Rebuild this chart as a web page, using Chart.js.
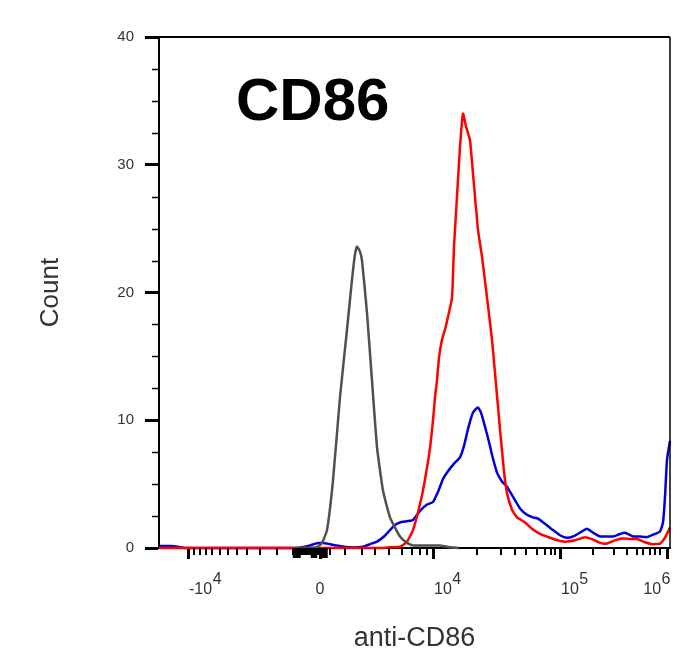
<!DOCTYPE html>
<html>
<head>
<meta charset="utf-8">
<script src="https://cdn.jsdelivr.net/npm/chart.js@4"></script>
<style>
  html, body { margin: 0; padding: 0; background: #fff; }
  canvas { display: block; }
</style>
</head>
<body>
<canvas id="histChart" width="673" height="655"></canvas>
<script>
// histogram bins in display channels (0..1022), counts per bin

const grayChannel = [272, 302, 318, 326, 336, 348, 362, 376, 386, 392, 396, 402, 406, 416, 426, 436, 448, 462, 482, 496, 508, 532, 562, 576, 600];
const grayCount = [0, 0, 0.1, 0.4, 1.4, 5.3, 11.8, 17.1, 21, 23, 23.6, 23.2, 22.5, 18.4, 13.1, 7.9, 4.5, 2.4, 0.9, 0.4, 0.2, 0.2, 0.2, 0.1, 0];

const redChannel = [0, 448, 462, 482, 496, 508, 518, 528, 536, 542, 548, 552, 556, 560, 566, 572, 578, 586, 590, 596, 602, 608, 614, 622, 628, 638, 646, 656, 666, 672, 682, 690, 696, 706, 716, 732, 746, 762, 782, 802, 816, 832, 852, 866, 882, 896, 912, 926, 942, 956, 972, 986, 1002, 1012, 1022];
const redCount = [0, 0, 0.05, 0.1, 0.5, 1.4, 2.8, 4.5, 6.3, 7.8, 10, 11.8, 13.1, 14.9, 16.3, 17.1, 18.1, 19.6, 23.6, 27.5, 31.4, 34.0, 33.0, 31.9, 29.3, 24.9, 22.8, 19.6, 16.3, 13.7, 9.3, 6.0, 4.3, 3.0, 2.4, 2.0, 1.5, 1.1, 0.8, 0.55, 0.5, 0.6, 0.85, 0.7, 0.4, 0.35, 0.6, 0.75, 0.7, 0.7, 0.45, 0.3, 0.35, 0.8, 1.6];

const blueChannel = [0, 22, 38, 52, 272, 292, 302, 314, 328, 342, 356, 382, 408, 422, 436, 450, 462, 472, 482, 496, 508, 522, 536, 548, 558, 568, 578, 590, 602, 610, 616, 622, 628, 634, 638, 644, 652, 660, 666, 676, 686, 696, 708, 722, 736, 748, 758, 772, 788, 802, 816, 828, 842, 856, 868, 882, 896, 908, 922, 932, 948, 962, 976, 992, 1002, 1008, 1012, 1016, 1022];
const blueCount = [0.15, 0.15, 0.1, 0, 0, 0.1, 0.2, 0.35, 0.4, 0.3, 0.2, 0.05, 0.1, 0.3, 0.5, 0.9, 1.4, 1.8, 2.0, 2.1, 2.2, 2.9, 3.4, 3.6, 4.4, 5.4, 6.0, 6.6, 7.1, 8.0, 9.0, 9.9, 10.6, 10.9, 11.0, 10.6, 9.5, 8.3, 7.3, 5.9, 5.2, 4.8, 4.0, 3.1, 2.6, 2.4, 2.3, 1.9, 1.4, 1.0, 0.8, 0.9, 1.2, 1.5, 1.2, 0.9, 0.9, 0.9, 1.1, 1.2, 0.9, 0.9, 0.85, 1.1, 1.3, 2.0, 4.0, 6.9, 8.4];

// x axis: labelled decades and the minor ticks between them (channels)
const majorTicks = [58, 322, 548, 802, 1016];
const majorBase = ["-10", "0", "10", "10", "10"];
const majorExp = ["4", "", "4", "5", "6"];
const minorTicks = [70, 82, 94, 106, 122, 138, 156, 176, 202, 236,
  342, 372, 406, 432, 460, 486, 506, 522, 536,
  636, 684, 712, 734, 756, 772, 784, 792,
  868, 910, 936, 956, 968, 982, 992, 1002];
// dense ticks around zero (biexponential linear region)
const zeroBlockStart = 268;
const zeroBlockEnd = 336;
const yMinorStep = 2.5;

const FONT = "'Liberation Sans', Arial, sans-serif";

function toPoints(xs, ys) {
  return xs.map((x, i) => ({ x: x, y: ys[i] }));
}

const axisDecor = {
  id: "axisDecor",
  afterDraw(chart) {
    const { ctx, chartArea } = chart;
    const xs = chart.scales.x;
    const ys = chart.scales.y;
    ctx.save();
    ctx.strokeStyle = "#000";

    // top and right frame
    ctx.lineWidth = 2;
    ctx.beginPath();
    ctx.moveTo(chartArea.left, chartArea.top);
    ctx.lineTo(chartArea.right, chartArea.top);
    ctx.stroke();
    ctx.lineWidth = 1.5;
    ctx.beginPath();
    ctx.moveTo(chartArea.right, chartArea.top);
    ctx.lineTo(chartArea.right, chartArea.bottom);
    ctx.stroke();

    // x minor ticks
    ctx.lineWidth = 2;
    const base = chartArea.bottom;
    minorTicks.forEach((v) => {
      const px = Math.round(xs.getPixelForValue(v));
      ctx.beginPath();
      ctx.moveTo(px, base);
      ctx.lineTo(px, base + 7);
      ctx.stroke();
    });
    for (let v = zeroBlockStart; v <= zeroBlockEnd; v += 1.5) {
      const px = xs.getPixelForValue(v);
      const long = (v > 268 && v < 282) || (v > 304 && v < 316) || v > 326;
      ctx.lineWidth = 2;
      ctx.beginPath();
      ctx.moveTo(px, base);
      ctx.lineTo(px, base + (long ? 10 : 7));
      ctx.stroke();
    }

    // y minor ticks
    ctx.lineWidth = 1.5;
    for (let v = yMinorStep; v < ys.max; v += yMinorStep) {
      if (v % 10 === 0) continue;
      const py = Math.round(ys.getPixelForValue(v)) + 0.5;
      ctx.beginPath();
      ctx.moveTo(chartArea.left - 7, py);
      ctx.lineTo(chartArea.left, py);
      ctx.stroke();
    }

    // x tick labels with superscript exponents
    ctx.fillStyle = "#333";
    ctx.font = "16px " + FONT;
    ctx.textBaseline = "alphabetic";
    const labelY = base + 46;
    majorTicks.forEach((v, i) => {
      const px = xs.getPixelForValue(v);
      const b = majorBase[i];
      const e = majorExp[i];
      const wb = ctx.measureText(b).width;
      const we = e ? ctx.measureText(e).width : 0;
      let left;
      if (!e) left = px - wb / 2;
      else if (i === majorTicks.length - 1) left = chartArea.right - wb - we;
      else left = px + 1;
      ctx.fillText(b, left, labelY);
      if (e) ctx.fillText(e, left + wb + 0.5, labelY - 10);
    });

    // panel label
    ctx.fillStyle = "#000";
    ctx.font = "bold 60px " + FONT;
    ctx.fillText("CD86", 236, 120);
    ctx.restore();
  },
};

const ctx = document.getElementById("histChart").getContext("2d");

new Chart(ctx, {
  type: "line",
  data: {
    datasets: [
      { label: "isotype", data: toPoints(grayChannel, grayCount), borderColor: "#505050", borderWidth: 2.5, tension: 0.15, clip: 4 },
      { label: "CD86 stained", data: toPoints(redChannel, redCount), borderColor: "#ff0000", borderWidth: 2.5, tension: 0.15, clip: 4 },
      { label: "CD86 sample", data: toPoints(blueChannel, blueCount), borderColor: "#0000dd", borderWidth: 2.5, tension: 0.15, clip: 4 },
    ],
  },
  options: {
    responsive: false,
    animation: false,
    layout: { padding: { top: 37, right: 3, left: 0, bottom: 0 } },
    elements: { point: { radius: 0 } },
    plugins: { legend: { display: false }, tooltip: { enabled: false } },
    scales: {
      x: {
        type: "linear",
        min: 0,
        max: 1022,
        afterFit: (s) => { s.height = 107; },
        afterBuildTicks: (s) => { s.ticks = majorTicks.map((v) => ({ value: v })); },
        ticks: { display: false },
        grid: { drawOnChartArea: false, tickLength: 11, tickWidth: 3, tickColor: "#000" },
        border: { color: "#000", width: 2 },
        title: { display: true, text: "anti-CD86", color: "#333", font: { family: FONT, size: 27 }, padding: { top: 0, bottom: 0 } },
      },
      y: {
        min: 0,
        max: 40,
        afterFit: (s) => { s.width = 159; },
        ticks: { stepSize: 10, padding: 11, color: "#333", font: { family: FONT, size: 15 } },
        grid: { drawOnChartArea: false, tickLength: 14, tickWidth: 3, tickColor: "#000" },
        border: { color: "#000", width: 2 },
        title: { display: true, text: "Count", color: "#333", font: { family: FONT, size: 26 }, padding: { top: 35, bottom: 0 } },
      },
    },
  },
  plugins: [axisDecor],
});
</script>
</body>
</html>
